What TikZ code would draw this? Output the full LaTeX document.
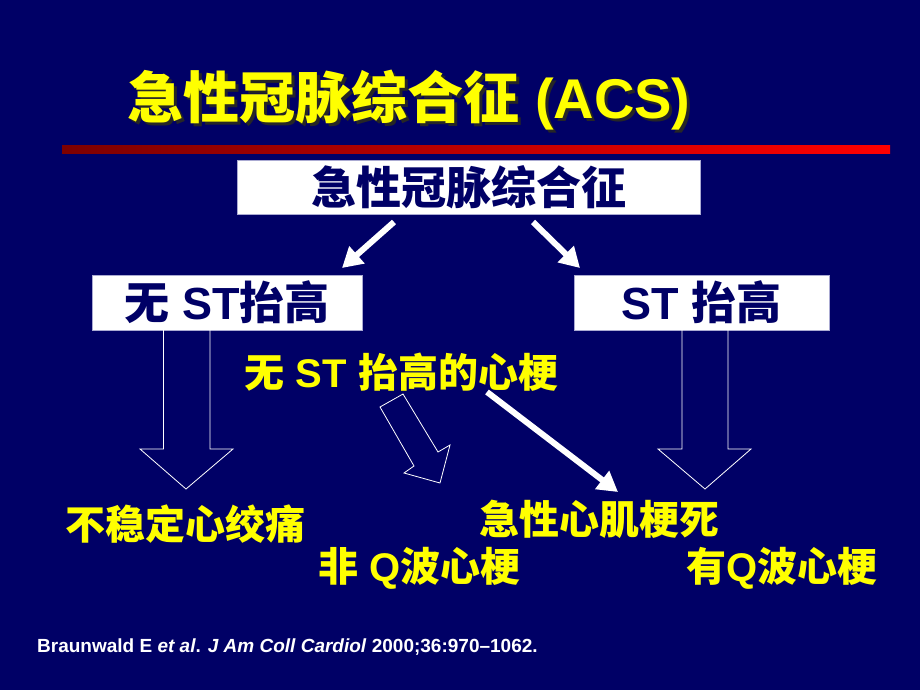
\documentclass[tikz,border=0pt]{standalone}
\usepackage{fontspec}
\setmainfont{Liberation Sans}
\newfontfamily\cjk{Noto Sans CJK SC}
\usetikzlibrary{arrows.meta}

\definecolor{slidebg}{RGB}{0,0,102}
\definecolor{acsyellow}{RGB}{255,255,0}
\definecolor{bardark}{RGB}{125,0,0}
\definecolor{barlight}{RGB}{255,0,0}

\newcommand{\zh}[1]{{\cjk #1}}
% yellow text with a dark drop shadow
\newcommand{\shadowtext}[1]{\rlap{\hspace{3pt}\raisebox{-3pt}{\color{black!85}#1}}#1}

\begin{document}
\begin{tikzpicture}[x=1pt,y=-1pt,
  box/.style={fill=white,draw={rgb,255:red,170;green,170;blue,210},line width=0.6,inner sep=0,
    font=\bfseries\fontsize{45}{50}\selectfont,text=slidebg},
  ylabel/.style={anchor=base,inner sep=0,text=acsyellow,font=\bfseries\fontsize{40}{44}\selectfont},
  fatarrow/.style={draw=white,line width=6,-{Triangle[width=22,length=20]}},
  hollow/.style={draw=white,line width=0.8,line join=miter}]

% background
\fill[slidebg] (0,0) rectangle (920,690);
\useasboundingbox (0,0) rectangle (920,690);

% Text Node
\node[anchor=base,inner sep=0,text=acsyellow,font=\bfseries\fontsize{56}{60}\selectfont] (title) at (409,118)
  {\shadowtext{\zh{急性冠脉综合征} (ACS)}};

%red bar
\shade[left color=bardark,right color=barlight] (62,145) rectangle (890,153);

% boxes
\node[box,minimum width=463,minimum height=54] (acs) at (468.5,187) {\zh{急性冠脉综合征}};
\node[box,minimum width=270,minimum height=55] (nost) at (227,302.5) {\zh{无} ST\zh{抬高}};
\node[box,minimum width=255,minimum height=55] (st) at (701.5,302.5) {ST \zh{抬高}};

% Text Node
\node[ylabel] (nstemi) at (401.5,387) {\zh{无} ST \zh{抬高的心梗}};
% Text Node
\node[ylabel] (ua) at (185.5,539) {\zh{不稳定心绞痛}};
% Text Node
\node[ylabel] (ami) at (599,534) {\zh{急性心肌梗死}};
% Text Node
\node[ylabel] (nqmi) at (419.5,581) {\zh{非} Q\zh{波心梗}};
% Text Node
\node[ylabel] (qmi) at (782,581) {\zh{有}Q\zh{波心梗}};

% solid arrows
\coordinate (lt) at (394,222);
\coordinate (lh) at (342,268);
\coordinate (rt) at (533,222);
\coordinate (rh) at (580,268);
\coordinate (dt) at (487,392);
\coordinate (dh) at (618,492);
\draw[fatarrow] (lt) -- (lh);
\draw[fatarrow] (rt) -- (rh);
\draw[fatarrow] (dt) -- (dh);

% hollow arrows
\draw[hollow] (163.5,330) -- (163.5,449) -- (140,449) -- (186,489) -- (233,449) -- (210,449) -- (210,330);
\draw[hollow] (682,330) -- (682,449) -- (658,449) -- (705,489) -- (751,449) -- (728,449) -- (728,330);
\draw[hollow] (380,407) -- (403,394) -- (438,452) -- (450,445) -- (440,483) -- (404,473) -- (414,466) -- cycle;

% Text Node
\node[anchor=base west,inner sep=0,text=white,font=\bfseries\fontsize{19}{21}\selectfont] (ref) at (37,652)
  {Braunwald E \textit{et al}. \textit{J Am Coll Cardiol} 2000;36:970--1062.};

\end{tikzpicture}
\end{document}
